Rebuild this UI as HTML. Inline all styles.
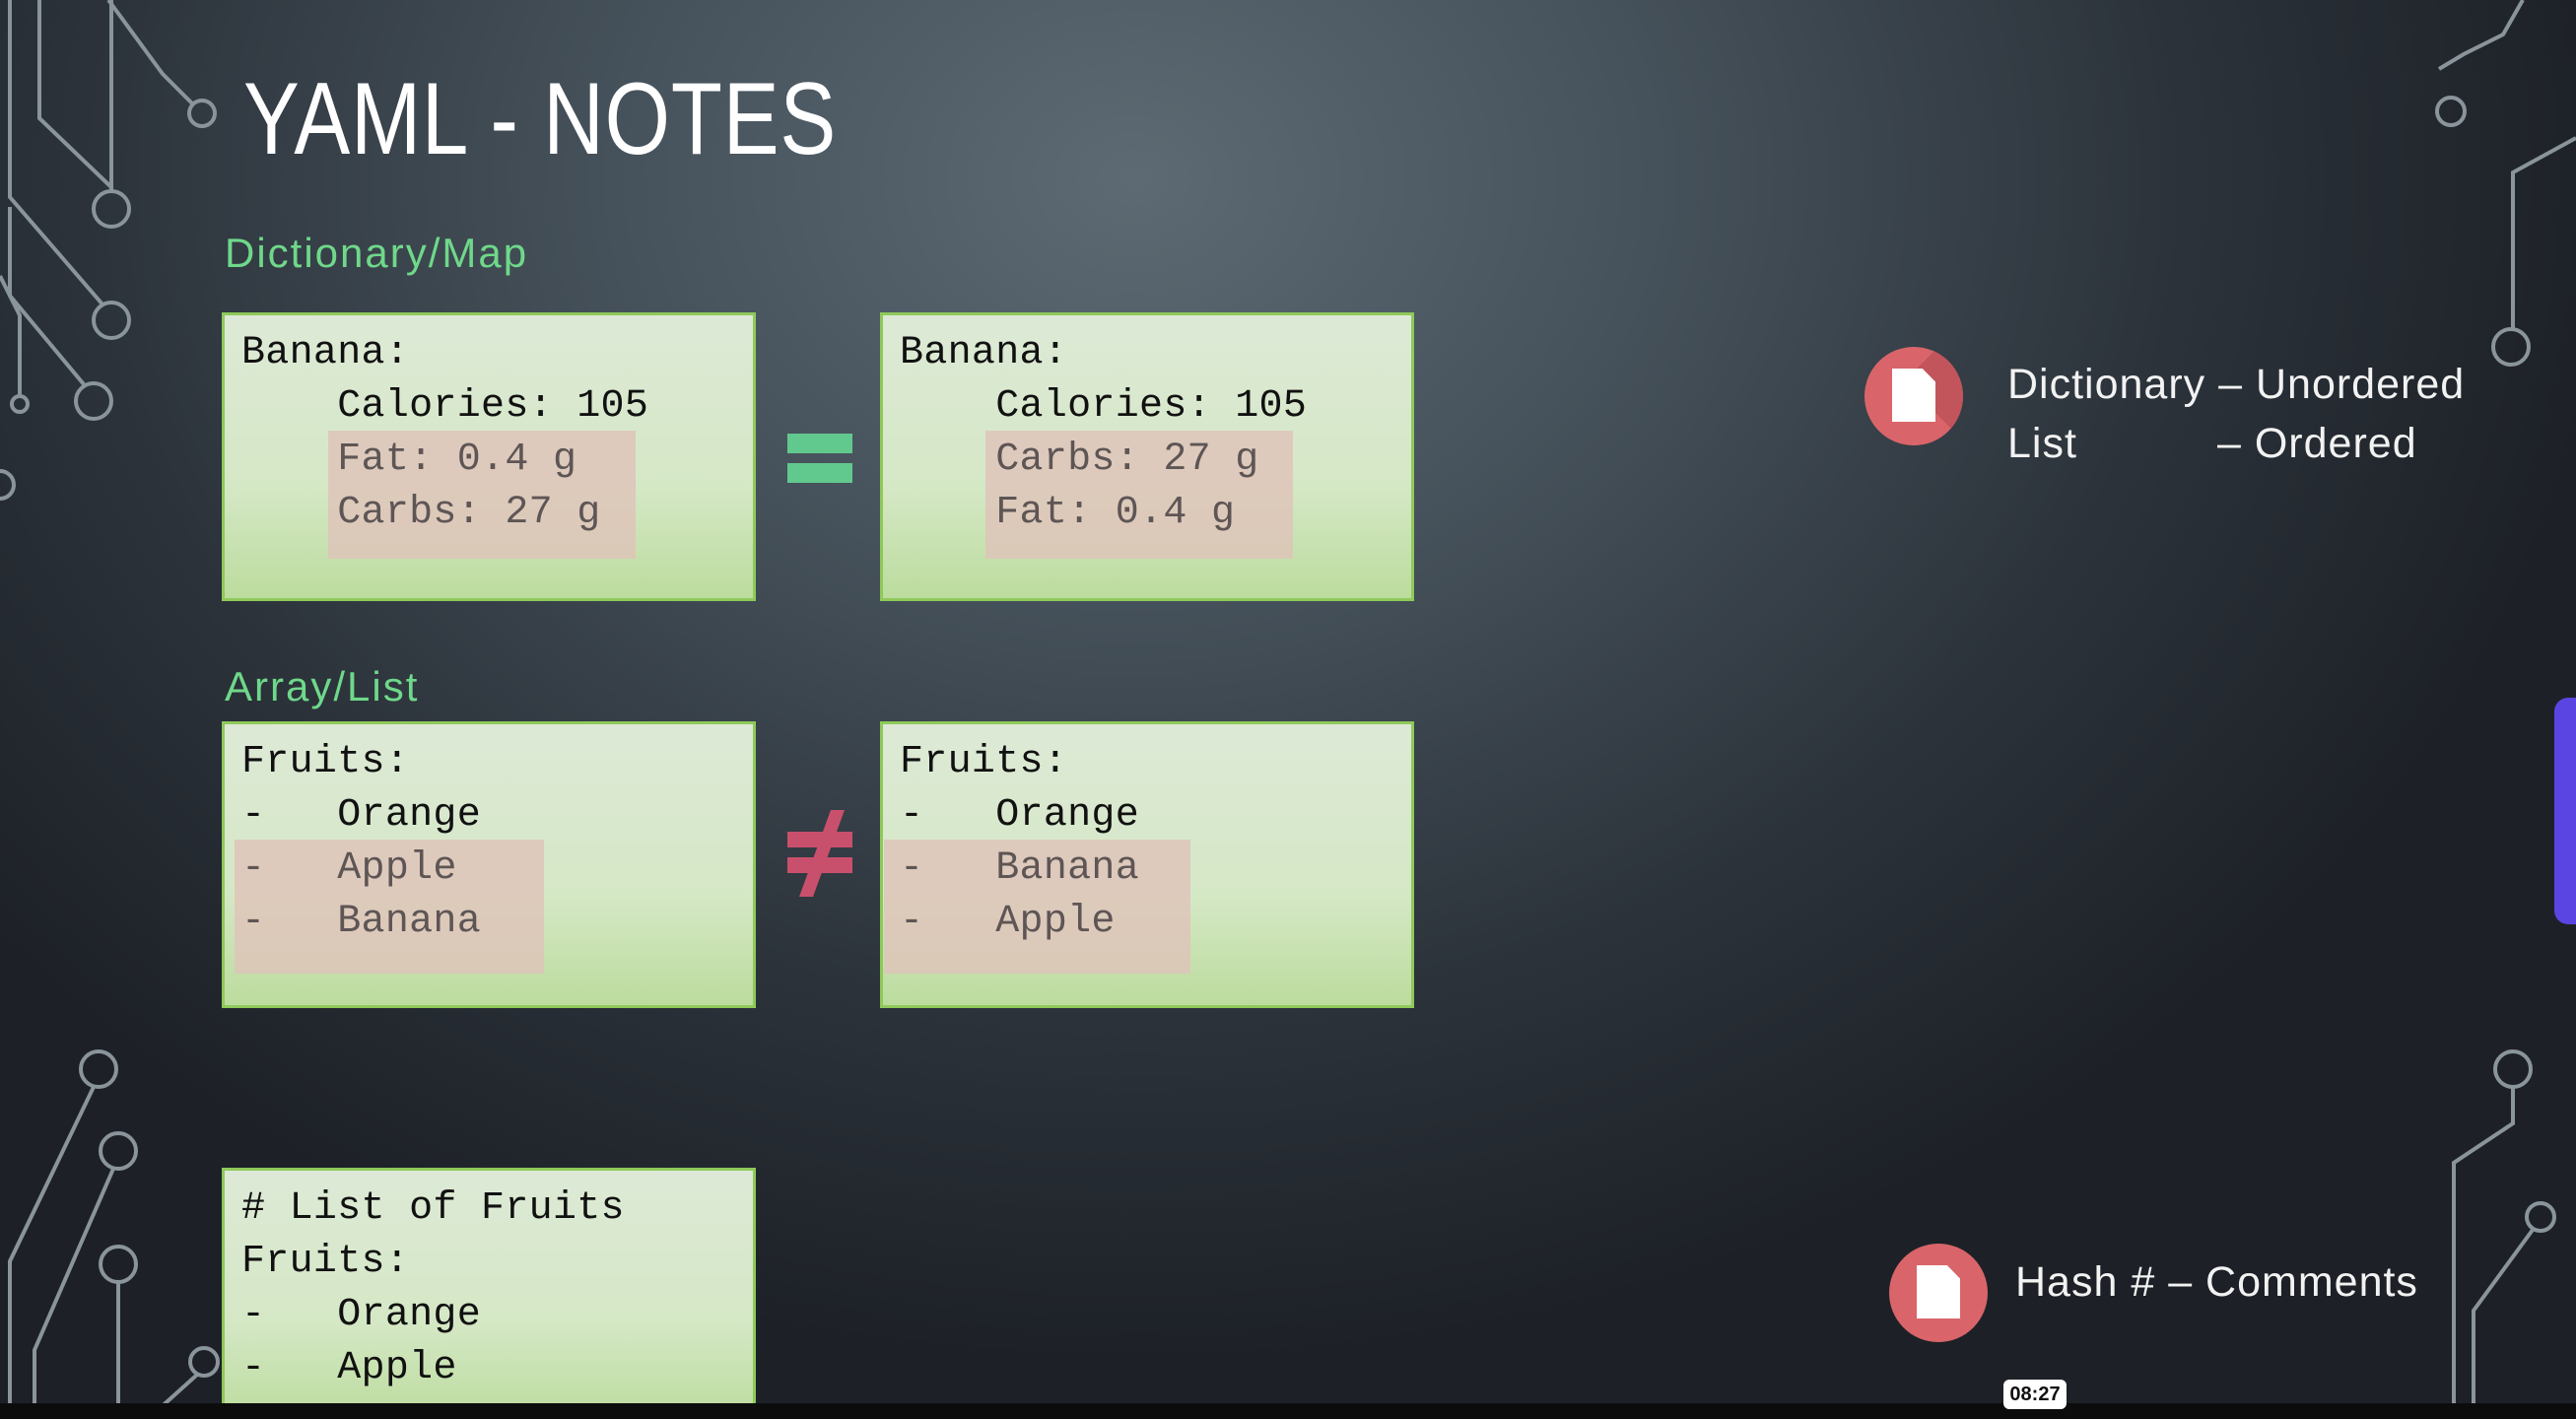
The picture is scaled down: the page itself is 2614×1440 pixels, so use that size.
<!DOCTYPE html>
<html><head><meta charset="utf-8"><style>
*{margin:0;padding:0;box-sizing:border-box}
html,body{width:2614px;height:1440px;overflow:hidden}
body{position:relative;
background:radial-gradient(ellipse 1500px 1200px at 1150px 180px,#5d6a73 0%,#46525b 35%,#2c333b 70%,#1d2127 100%);
font-family:"Liberation Sans",sans-serif}
.abs{position:absolute}
.title{left:247px;top:62px;font-size:104px;color:#fff;white-space:nowrap;transform:scaleX(0.82);transform-origin:left top;letter-spacing:1px}
.lbl{color:#6fd88a;font-size:42px;white-space:nowrap;letter-spacing:2px}
.box{border:3px solid #8fc95a;background:linear-gradient(180deg,#dde9d6 0%,#d5e8c6 60%,#bcdc9e 100%)}
.hl{background:rgba(222,196,186,0.85)}
.code{font-family:"Liberation Mono",monospace;font-size:40px;color:#111;white-space:pre;line-height:54px;letter-spacing:0.3px}
.g{color:#5e5555}
.rt{color:#f2f2f2;font-size:43px;white-space:nowrap;letter-spacing:1px}
.ico{border-radius:50%;background:#d9656a;overflow:hidden}
.doc{position:absolute;background:#fff}
</style></head><body>

<svg class="abs" style="left:0;top:0" width="2614" height="1440" fill="none" stroke="#8a949b" stroke-width="4">
 <path d="M110 0 L165 75 L197 107"/><circle cx="205" cy="115" r="13"/>
 <path d="M40 0 L40 120 L113 190"/><path d="M113 0 L113 195"/><circle cx="113" cy="212" r="18"/>
 <path d="M10 0 L10 200 L105 310"/><circle cx="113" cy="325" r="18"/>
 <path d="M10 210 L10 300 L85 390"/><circle cx="95" cy="407" r="18"/>
 <path d="M0 280 L20 320 L20 400"/><circle cx="20" cy="410" r="8"/>
 <circle cx="0" cy="492" r="14"/>
 <circle cx="100" cy="1085" r="18"/><path d="M95 1103 L10 1280 L10 1440"/>
 <circle cx="120" cy="1168" r="18"/><path d="M115 1186 L35 1370 L35 1440"/>
 <circle cx="120" cy="1283" r="18"/><path d="M120 1301 L120 1440"/>
 <circle cx="207" cy="1382" r="14"/><path d="M200 1395 L150 1440"/>
 <path d="M2560 0 L2540 35 L2500 55 L2475 70"/><circle cx="2487" cy="113" r="14"/>
 <path d="M2614 140 L2550 175 L2550 335"/><circle cx="2548" cy="352" r="18"/>
 <circle cx="2550" cy="1085" r="18"/><path d="M2550 1103 L2550 1140 L2490 1180 L2490 1440"/>
 <circle cx="2578" cy="1235" r="14"/><path d="M2570 1248 L2510 1330 L2510 1440"/>
</svg>

<div class="abs title">YAML - NOTES</div>

<div class="abs lbl" style="left:228px;top:233px">Dictionary/Map</div>
<div class="abs lbl" style="left:228px;top:673px">Array/List</div>

<div class="abs box" style="left:225px;top:317px;width:542px;height:293px"></div>
<div class="abs hl" style="left:333px;top:437px;width:312px;height:130px"></div>
<div class="abs code" style="left:245px;top:332px">Banana:
    Calories: 105
    <span class="g">Fat: 0.4 g</span>
    <span class="g">Carbs: 27 g</span></div>

<div class="abs box" style="left:893px;top:317px;width:542px;height:293px"></div>
<div class="abs hl" style="left:1000px;top:437px;width:312px;height:130px"></div>
<div class="abs code" style="left:913px;top:332px">Banana:
    Calories: 105
    <span class="g">Carbs: 27 g</span>
    <span class="g">Fat: 0.4 g</span></div>

<div class="abs" style="left:799px;top:440px;width:66px;height:20px;background:#62c98e"></div>
<div class="abs" style="left:799px;top:470px;width:66px;height:20px;background:#62c98e"></div>

<div class="abs box" style="left:225px;top:732px;width:542px;height:291px"></div>
<div class="abs hl" style="left:238px;top:852px;width:314px;height:136px"></div>
<div class="abs code" style="left:245px;top:747px">Fruits:
-   Orange
<span class="g">-   Apple</span>
<span class="g">-   Banana</span></div>

<div class="abs box" style="left:893px;top:732px;width:542px;height:291px"></div>
<div class="abs hl" style="left:897px;top:852px;width:311px;height:136px"></div>
<div class="abs code" style="left:913px;top:747px">Fruits:
-   Orange
<span class="g">-   Banana</span>
<span class="g">-   Apple</span></div>

<svg class="abs" style="left:795px;top:818px" width="76" height="96">
 <rect x="4" y="26" width="66" height="16" fill="#c9506c"/>
 <rect x="4" y="52" width="66" height="16" fill="#c9506c"/>
 <path d="M48 4 L62 4 L30 92 L16 92 Z" fill="#c9506c"/>
</svg>

<div class="abs box" style="left:225px;top:1185px;width:542px;height:255px;border-bottom:none"></div>
<div class="abs code" style="left:245px;top:1200px;height:240px;overflow:hidden"># List of Fruits
Fruits:
-   Orange
-   Apple
-   Banana</div>

<div class="abs ico" style="left:1892px;top:352px;width:100px;height:100px">
 <div class="abs" style="left:40px;top:35px;width:90px;height:90px;background:#c2545b;transform:rotate(-45deg);transform-origin:0 0"></div>
 <div class="doc" style="left:28px;top:22px;width:44px;height:54px;clip-path:polygon(0 0,70% 0,100% 25%,100% 100%,0 100%)"></div>
</div>
<div class="abs rt" style="left:2037px;top:366px">Dictionary – Unordered</div>
<div class="abs rt" style="left:2037px;top:426px">List</div>
<div class="abs rt" style="left:2250px;top:426px">– Ordered</div>

<div class="abs ico" style="left:1917px;top:1262px;width:100px;height:100px">
 <div class="doc" style="left:28px;top:22px;width:44px;height:54px;clip-path:polygon(0 0,70% 0,100% 25%,100% 100%,0 100%)"></div>
</div>
<div class="abs rt" style="left:2045px;top:1277px">Hash # – Comments</div>

<div class="abs" style="left:2592px;top:708px;width:22px;height:230px;background:#5b45e2;border-radius:14px 0 0 14px"></div>

<div class="abs" style="left:0;top:1424px;width:2614px;height:16px;background:#0c0c0c"></div>
<div class="abs" style="left:2033px;top:1400px;width:64px;height:30px;background:#fff;border-radius:6px;font-size:20px;font-weight:bold;text-align:center;line-height:30px;color:#111">08:27</div>
</body></html>
